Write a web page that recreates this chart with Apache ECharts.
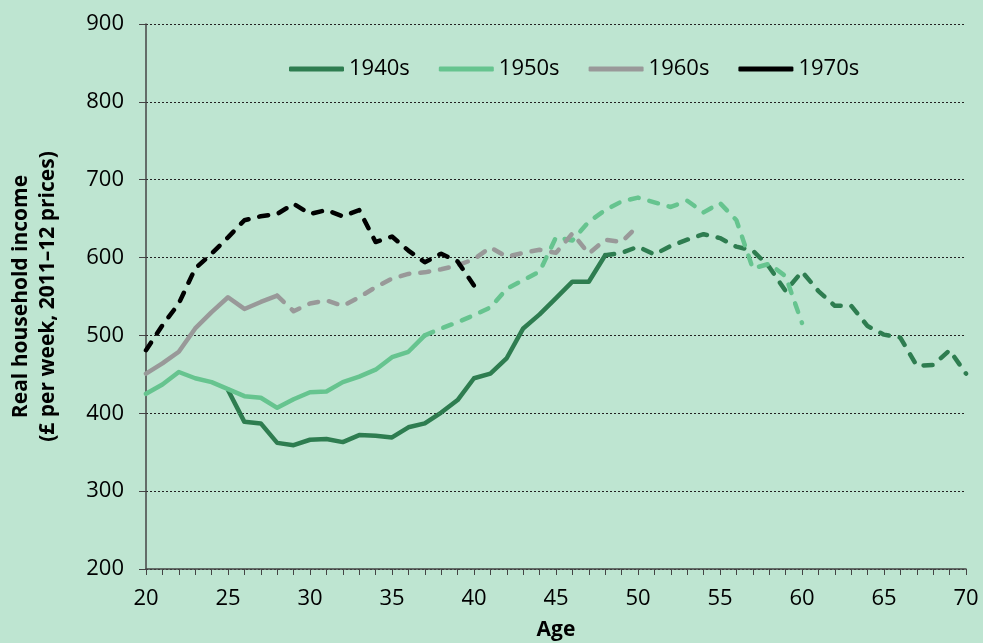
<!DOCTYPE html>
<html>
<head>
<meta charset="utf-8">
<script src="https://cdn.jsdelivr.net/npm/echarts@6/dist/echarts.min.js"></script>
<style>
    html, body { margin: 0; padding: 0; background: #bee5d1; }
    #main { width: 983px; height: 643px; }
</style>
</head>
<body>
<div id="main"></div>
<script>
// 年龄 (x轴)
var ages = [20, 21, 22, 23, 24, 25, 26, 27, 28, 29, 30, 31, 32, 33, 34, 35, 36, 37, 38, 39, 40,
    41, 42, 43, 44, 45, 46, 47, 48, 49, 50, 51, 52, 53, 54, 55, 56, 57, 58, 59, 60,
    61, 62, 63, 64, 65, 66, 67, 68, 69, 70];

// 每个出生年代的收入, null = 没有数据
var v1940s = [null, null, null, null, null, 430, 389, 387, 362, 359, 366, 367, 363, 372, 371, 369, 382, 387, 401, 417, 445,
    451, 471, 509, 527, 548, 569, 569, 603, 606, 614, 604, 615, 623, 630, 625, 614, 609, 588, 557, 582,
    557, 538, 538, 512, 501, 497, 461, 462, 481, 451];
var v1950s = [425, 437, 453, 445, 440, 431, 422, 420, 407, 418, 427, 428, 440, 447, 456, 472, 479, 500, 509, 517, 526,
    536, 560, 571, 582, 626, 622, 646, 661, 672, 677, 671, 665, 673, 658, 670, 648, 586, 592, 576, 516];
var v1960s = [451, 464, 479, 509, 530, 549, 534, 543, 551, 531, 541, 545, 538, 549, 562, 573, 579, 581, 585, 590, 598,
    613, 601, 606, 610, 606, 631, 605, 623, 620, 641];
var v1970s = [481, 513, 541, 586, 605, 626, 648, 653, 656, 669, 656, 661, 653, 661, 620, 627, 609, 594, 605, 595, 564];

// 实线 -> 虚线 的分界年龄
var cohorts = ['1940s', '1950s', '1960s', '1970s'];
var values = [v1940s, v1950s, v1960s, v1970s];
var splitAge = [48, 37, 28, 20];
var colors = ['#2e7d50', '#66c48f', '#999999', '#000000'];

var yTicks = [200, 300, 400, 500, 600, 700, 800, 900];

function part(vals, from, to) {
    var out = [];
    for (var i = 0; i < vals.length; i++) {
        if (vals[i] == null) continue;
        if (ages[i] >= from && ages[i] <= to) out.push([ages[i], vals[i]]);
    }
    return out;
}

var series = [];
for (var k = 0; k < cohorts.length; k++) {
    var solid = part(values[k], 0, splitAge[k]);
    if (solid.length > 1) {
        series.push({
            name: cohorts[k], type: 'line', data: solid, showSymbol: false, symbol: 'none',
            lineStyle: { color: colors[k], width: 4.5, cap: 'round', join: 'round' },
            itemStyle: { color: colors[k] }, z: 2 + k, silent: true
        });
    }
    series.push({
        name: cohorts[k], type: 'line', data: part(values[k], splitAge[k], 100), showSymbol: false, symbol: 'none',
        lineStyle: { color: colors[k], width: 4.5, type: [9, 11], cap: 'round', join: 'round' },
        itemStyle: { color: colors[k] }, z: 2 + k, silent: true
    });
}

var chart = echarts.init(document.getElementById('main'));
chart.setOption({
    backgroundColor: '#bee5d1',
    animation: false,
    textStyle: { fontFamily: 'Open Sans' },
    legend: {
        data: cohorts,
        top: 53,
        left: 284,
        icon: 'roundRect',
        itemWidth: 55,
        itemHeight: 5,
        itemGap: 29,
        textStyle: { fontSize: 22, color: '#000' }
    },
    grid: { left: 146, right: 17, top: 24, bottom: 74, outerBoundsMode: 'none' },
    xAxis: {
        type: 'value',
        min: 20, max: 70, interval: 5,
        name: 'Age', nameLocation: 'middle', nameGap: 51,
        nameTextStyle: { fontSize: 21, fontWeight: 'bold', color: '#000' },
        axisLine: { show: true, lineStyle: { color: '#444', width: 1.5 } },
        axisTick: { show: true, length: 6, lineStyle: { color: '#444' } },
        minorTick: { show: true, splitNumber: 5, length: 6, lineStyle: { color: '#444' } },
        axisLabel: { fontSize: 22, color: '#000', margin: 19 },
        splitLine: { show: false }
    },
    yAxis: {
        type: 'value',
        min: yTicks[0], max: yTicks[yTicks.length - 1], interval: 100,
        name: 'Real household income\n(£ per week, 2011–12 prices)',
        nameLocation: 'middle', nameGap: 84,
        nameTextStyle: { fontSize: 21, fontWeight: 'bold', color: '#000', lineHeight: 27 },
        axisLine: { show: true, lineStyle: { color: '#444', width: 1.5 } },
        axisTick: { show: true, length: 7, lineStyle: { color: '#444' } },
        axisLabel: { fontSize: 22, color: '#000', margin: 22 },
        splitLine: { show: true, lineStyle: { color: '#222', width: 1, type: [2, 2] } }
    },
    series: series
});
</script>
</body>
</html>
